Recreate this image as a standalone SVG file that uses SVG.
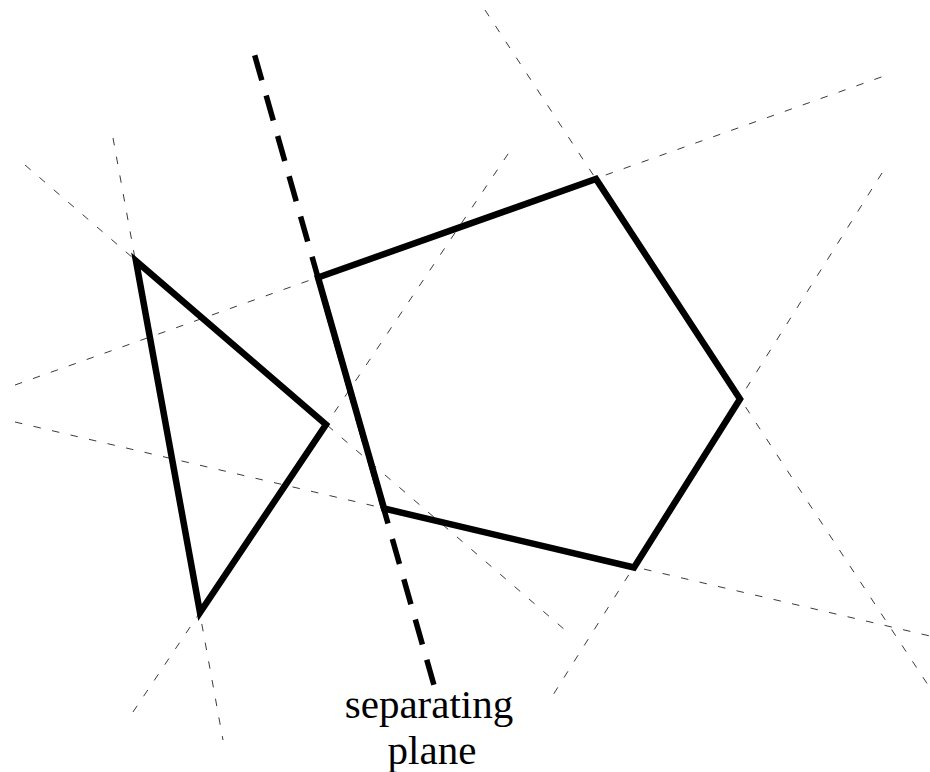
<svg xmlns="http://www.w3.org/2000/svg" width="930" height="772" viewBox="0 0 930 772">
  <style>
    .ext { fill: none; stroke: #3a3a3a; stroke-width: 1; stroke-dasharray: 7.5 11.5; }
    .solid { fill: none; stroke: #000; stroke-width: 6.5; stroke-linejoin: miter; stroke-miterlimit: 10; }
    .plane { fill: none; stroke: #000; stroke-width: 5.5; stroke-dasharray: 26 15.9; stroke-linecap: butt; }
    .label { font-family: "Liberation Serif", "Times New Roman", serif; font-size: 41px; fill: #000; text-anchor: middle; }
  </style>
  <rect width="930" height="772" fill="#fff"/>
  <g id="extension-lines">
    <line class="ext" x1="113" y1="138" x2="223" y2="740"/>
    <line class="ext" x1="25" y1="165" x2="565" y2="630"/>
    <line class="ext" x1="133" y1="712" x2="510" y2="151"/>
    <line class="ext" x1="15" y1="385" x2="887" y2="75"/>
    <line class="ext" x1="15" y1="422" x2="930" y2="636"/>
    <line class="ext" x1="485" y1="10" x2="930" y2="688"/>
    <line class="ext" x1="882" y1="173" x2="553" y2="695"/>
  </g>
  <g id="triangle">
    <polygon class="solid" points="136,261 326,424.5 200,612.5"/>
  </g>
  <g id="pentagon">
    <polygon class="solid" points="318,277.5 596,179 740,399 634,567.5 384,508.5"/>
  </g>
  <g id="separating-plane">
    <line class="plane" x1="254.7" y1="55.3" x2="434.5" y2="687"/>
    <text class="label" x="429" y="718">separating</text>
    <text class="label" x="432" y="764">plane</text>
  </g>
</svg>
